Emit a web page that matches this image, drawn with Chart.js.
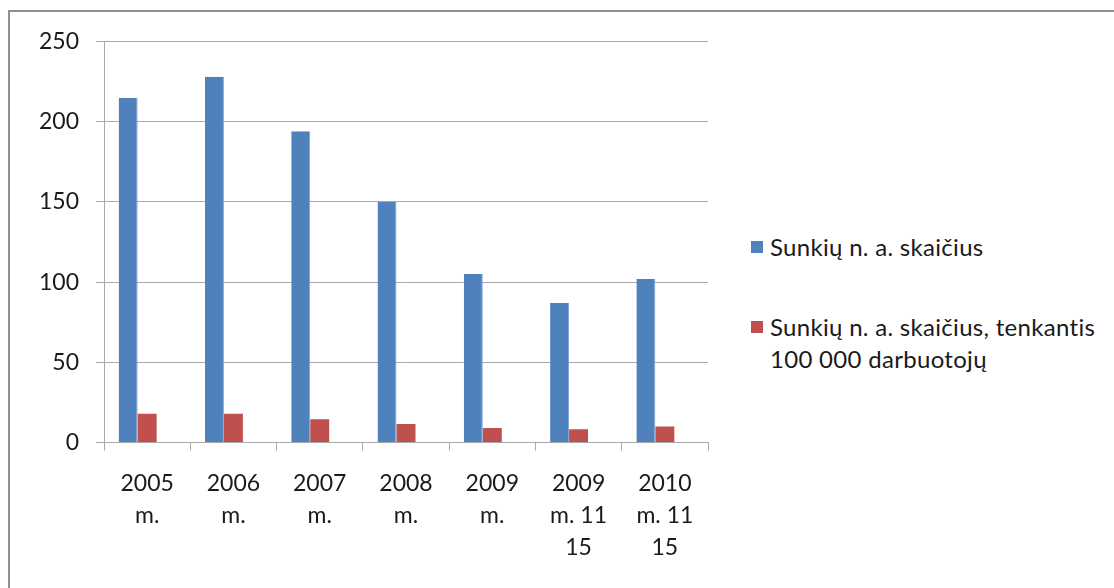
<!DOCTYPE html>
<html>
<head>
<meta charset="utf-8">
<script src="https://cdn.jsdelivr.net/npm/chart.js@4/dist/chart.umd.min.js"></script>
<style>
  html, body { margin: 0; padding: 0; background: #fff; }
  body { width: 1114px; height: 588px; position: relative; overflow: hidden; font-family: Lato, "Open Sans", sans-serif; }
  #frame { position: absolute; left: 8px; top: 10px; width: 1200px; height: 700px; border-top: 2px solid #8f8f8f; border-left: 2px solid #8f8f8f; }
  #wrap { position: absolute; left: 0; top: 0; width: 720px; height: 588px; }
  #legend { position: absolute; left: 751px; top: 0; font-size: 24px; letter-spacing: 0.3px; color: #1a1a1a; }
  .item { position: absolute; left: 0; white-space: nowrap; line-height: 32px; }
  .box { position: absolute; left: 0; top: 10px; width: 12px; height: 12px; }
  .txt { position: absolute; left: 19px; top: 0; }
</style>
</head>
<body>
<div id="frame"></div>
<div id="wrap"><canvas id="chart" width="720" height="588"></canvas></div>
<div id="legend"></div>
<script>
// Sunkių nelaimingų atsitikimų duomenys
const categories = [
  ['2005', 'm.'],
  ['2006', 'm.'],
  ['2007', 'm.'],
  ['2008', 'm.'],
  ['2009', 'm.'],
  ['2009', 'm. 11', '15'],
  ['2010', 'm. 11', '15']
];
const seriesNames = ['Sunkių n. a. skaičius', 'Sunkių n. a. skaičius, tenkantis\n100 000 darbuotojų'];
const severeCount = [215, 228, 194, 150, 105, 87, 102];
const perWorkers = [18, 18, 14.5, 11.5, 9, 8.2, 9.9];
const emptySeries = [null, null, null, null, null, null, null];
const yTicks = [0, 50, 100, 150, 200, 250];
const colors = ['#4F81BD', '#C0504D'];

const gridColor = '#a9a9a9';
const tickFont = { family: 'Lato', size: 23, lineHeight: 1.4 };

new Chart(document.getElementById('chart'), {
  type: 'bar',
  data: {
    labels: categories,
    datasets: [
      { label: seriesNames[0], data: severeCount, backgroundColor: colors[0], borderColor: '#7da2d0', borderWidth: { right: 1 } },
      { label: seriesNames[1], data: perWorkers, backgroundColor: colors[1], borderWidth: 0 },
      { label: '', data: emptySeries, backgroundColor: 'transparent' }
    ]
  },
  options: {
    responsive: false,
    animation: false,
    categoryPercentage: 0.66,
    barPercentage: 1,
    layout: { padding: { left: 0, right: 12, top: 41.5, bottom: 0 } },
    plugins: { legend: { display: false }, tooltip: { enabled: false } },
    scales: {
      x: {
        grid: { display: true, drawOnChartArea: false, color: gridColor, tickLength: 8, offset: true },
        border: { color: gridColor },
        ticks: { color: '#1a1a1a', font: tickFont, padding: 17, maxRotation: 0, autoSkip: false },
        afterFit: s => { s.height = 145.5; }
      },
      y: {
        min: 0, max: 250,
        afterBuildTicks: s => { s.ticks = yTicks.map(v => ({ value: v })); },
        grid: { color: gridColor, tickLength: 8 },
        border: { color: gridColor },
        ticks: { color: '#1a1a1a', font: tickFont, padding: 17 },
        afterFit: s => { s.width = 104; }
      }
    }
  }
});

// legenda dešinėje
const legend = document.getElementById('legend');
const tops = [231, 311];
seriesNames.forEach((name, i) => {
  const item = document.createElement('div');
  item.className = 'item';
  item.style.top = tops[i] + 'px';
  const box = document.createElement('div');
  box.className = 'box';
  box.style.background = colors[i];
  const txt = document.createElement('div');
  txt.className = 'txt';
  txt.innerHTML = name.split('\n').join('<br>');
  item.appendChild(box);
  item.appendChild(txt);
  legend.appendChild(item);
});
</script>
</body>
</html>
